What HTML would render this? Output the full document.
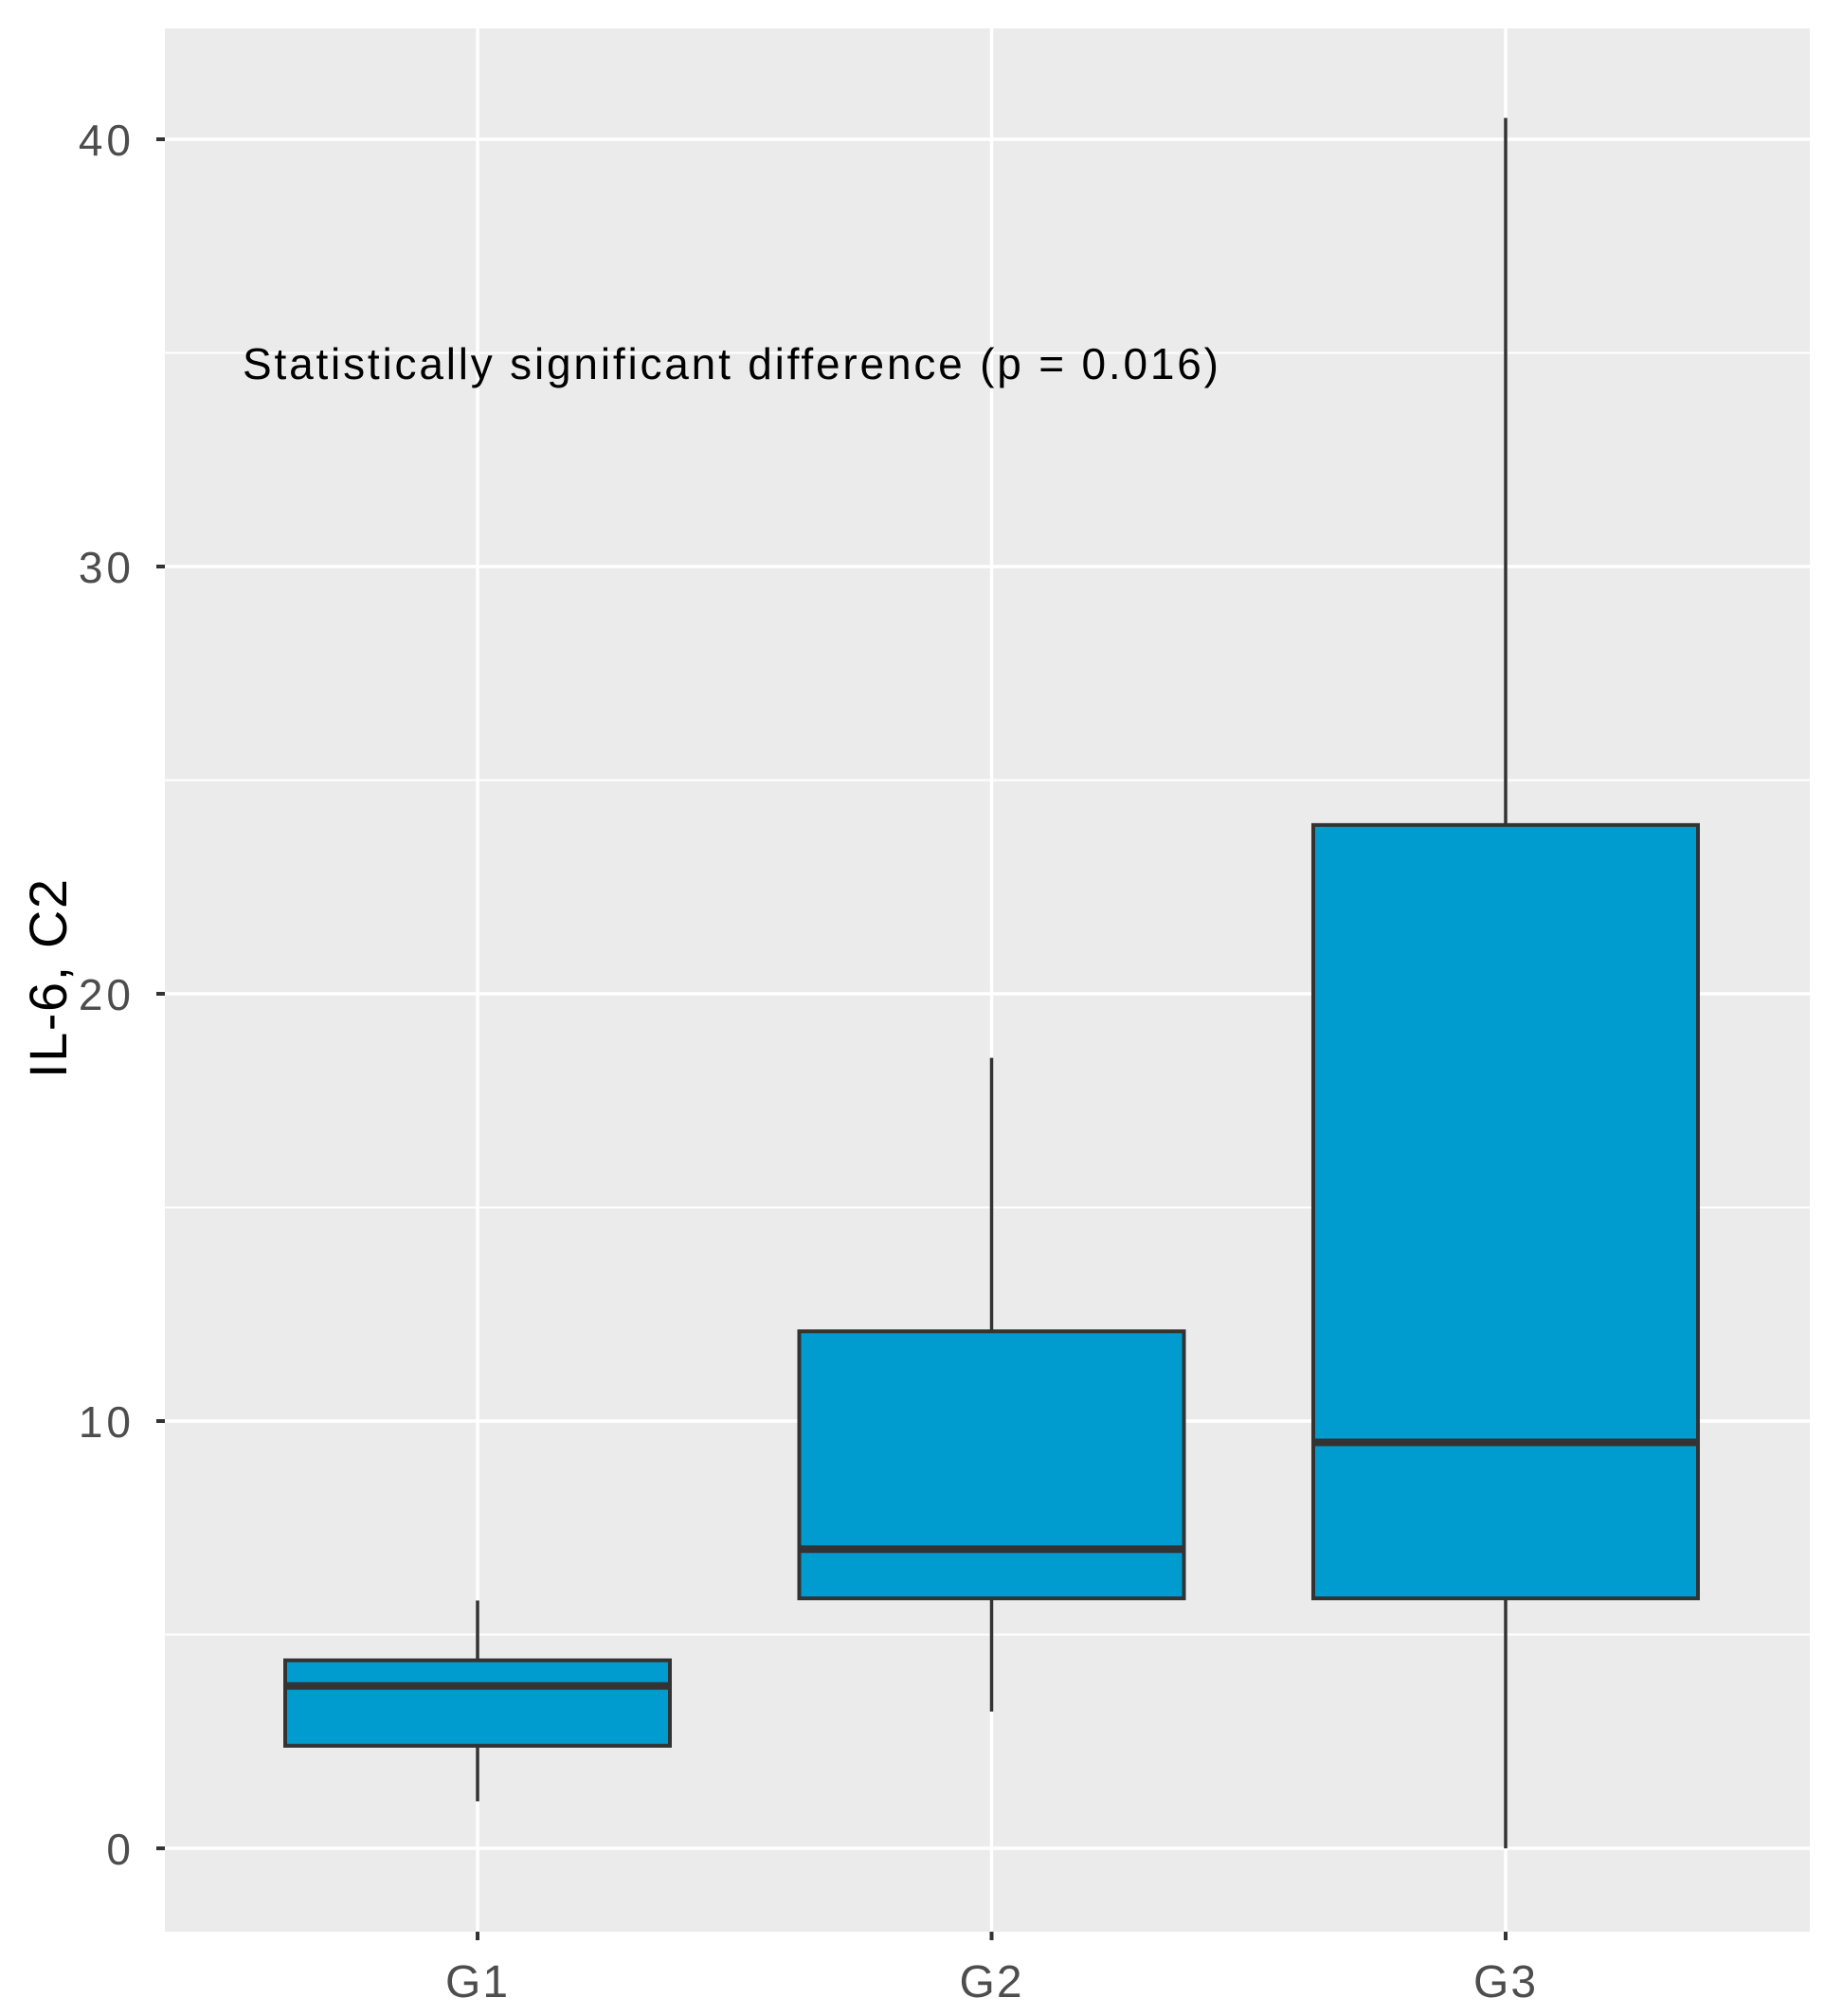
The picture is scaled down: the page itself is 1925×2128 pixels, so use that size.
<!DOCTYPE html>
<html><head><meta charset="utf-8"><style>
html,body{margin:0;padding:0;background:#fff;}
svg{display:block;font-family:"Liberation Sans",Arial,sans-serif;}
</style></head><body>
<svg id="chart" width="1925" height="2128" viewBox="0 0 1925 2128">
<rect x="174" y="30" width="1736" height="2009" fill="#ebebeb"/>
<g id="grid"></g>
<g id="axes"></g>
<g id="boxes"></g>
<text x="256" y="400" font-size="46" textLength="1030" lengthAdjust="spacing" fill="#000">Statistically significant difference (p = 0.016)</text>
<text transform="translate(70,1033) rotate(-90)" text-anchor="middle" font-size="56" textLength="210" lengthAdjust="spacing" fill="#000">IL-6, C2</text>
</svg>
<script>
const categories = ["G1","G2","G3"];
const whiskerLow = [1.1, 3.2, 0];
const q1 = [2.4, 5.85, 5.85];
const medians = [3.8, 7.0, 9.5];
const q3 = [4.4, 12.1, 23.95];
const whiskerHigh = [5.8, 18.5, 40.5];
const yTicks = [0,10,20,30,40];
const yMinor = [5,15,25,35];

const NS="http://www.w3.org/2000/svg";
const left=174,right=1910;
const y=v=>1951-v*45.1;
const x=i=>504+i*542.5;
const halfW=203;
function mk(tag,attrs,parent){const e=document.createElementNS(NS,tag);for(const k in attrs)e.setAttribute(k,attrs[k]);parent.appendChild(e);return e;}
const grid=document.getElementById('grid'),axes=document.getElementById('axes'),boxes=document.getElementById('boxes');
yMinor.forEach(v=>{const l=mk('line',{x1:left,x2:right,y1:y(v),y2:y(v),stroke:'#fff','stroke-width':2},grid);

});
yTicks.forEach(v=>{const l=mk('line',{x1:left,x2:right,y1:y(v),y2:y(v),stroke:'#fff','stroke-width':3.5},grid);


const t=mk('line',{x1:left-9,x2:left,y1:y(v),y2:y(v),stroke:'#333','stroke-width':4},axes);


const tx=mk('text',{x:left-32,y:y(v)+17,'text-anchor':'end','font-size':46,'letter-spacing':'4',fill:'#4d4d4d'},axes);tx.textContent=v;

});
categories.forEach((c,i)=>{const cx=x(i);
const g=mk('line',{x1:cx,x2:cx,y1:30,y2:2039,stroke:'#fff','stroke-width':3.5},grid);


const t=mk('line',{x1:cx,x2:cx,y1:2039,y2:2048,stroke:'#333','stroke-width':4},axes);


const tx=mk('text',{x:cx,y:2108,'text-anchor':'middle','font-size':48,'letter-spacing':'2',fill:'#4d4d4d'},axes);tx.textContent=c;


const g2=mk('g',{},boxes);


const w1=mk('line',{x1:cx,x2:cx,y1:y(whiskerHigh[i]),y2:y(q3[i]),stroke:'#333','stroke-width':3.5},g2);


const w2=mk('line',{x1:cx,x2:cx,y1:y(q1[i]),y2:y(whiskerLow[i]),stroke:'#333','stroke-width':3.5},g2);


const r=mk('rect',{x:cx-halfW,y:y(q3[i]),width:2*halfW,height:y(q1[i])-y(q3[i]),fill:'#009ccf',stroke:'#333','stroke-width':4},g2);


const m=mk('line',{x1:cx-halfW,x2:cx+halfW,y1:y(medians[i]),y2:y(medians[i]),stroke:'#333','stroke-width':8},g2);

});
</script>
</body></html>
